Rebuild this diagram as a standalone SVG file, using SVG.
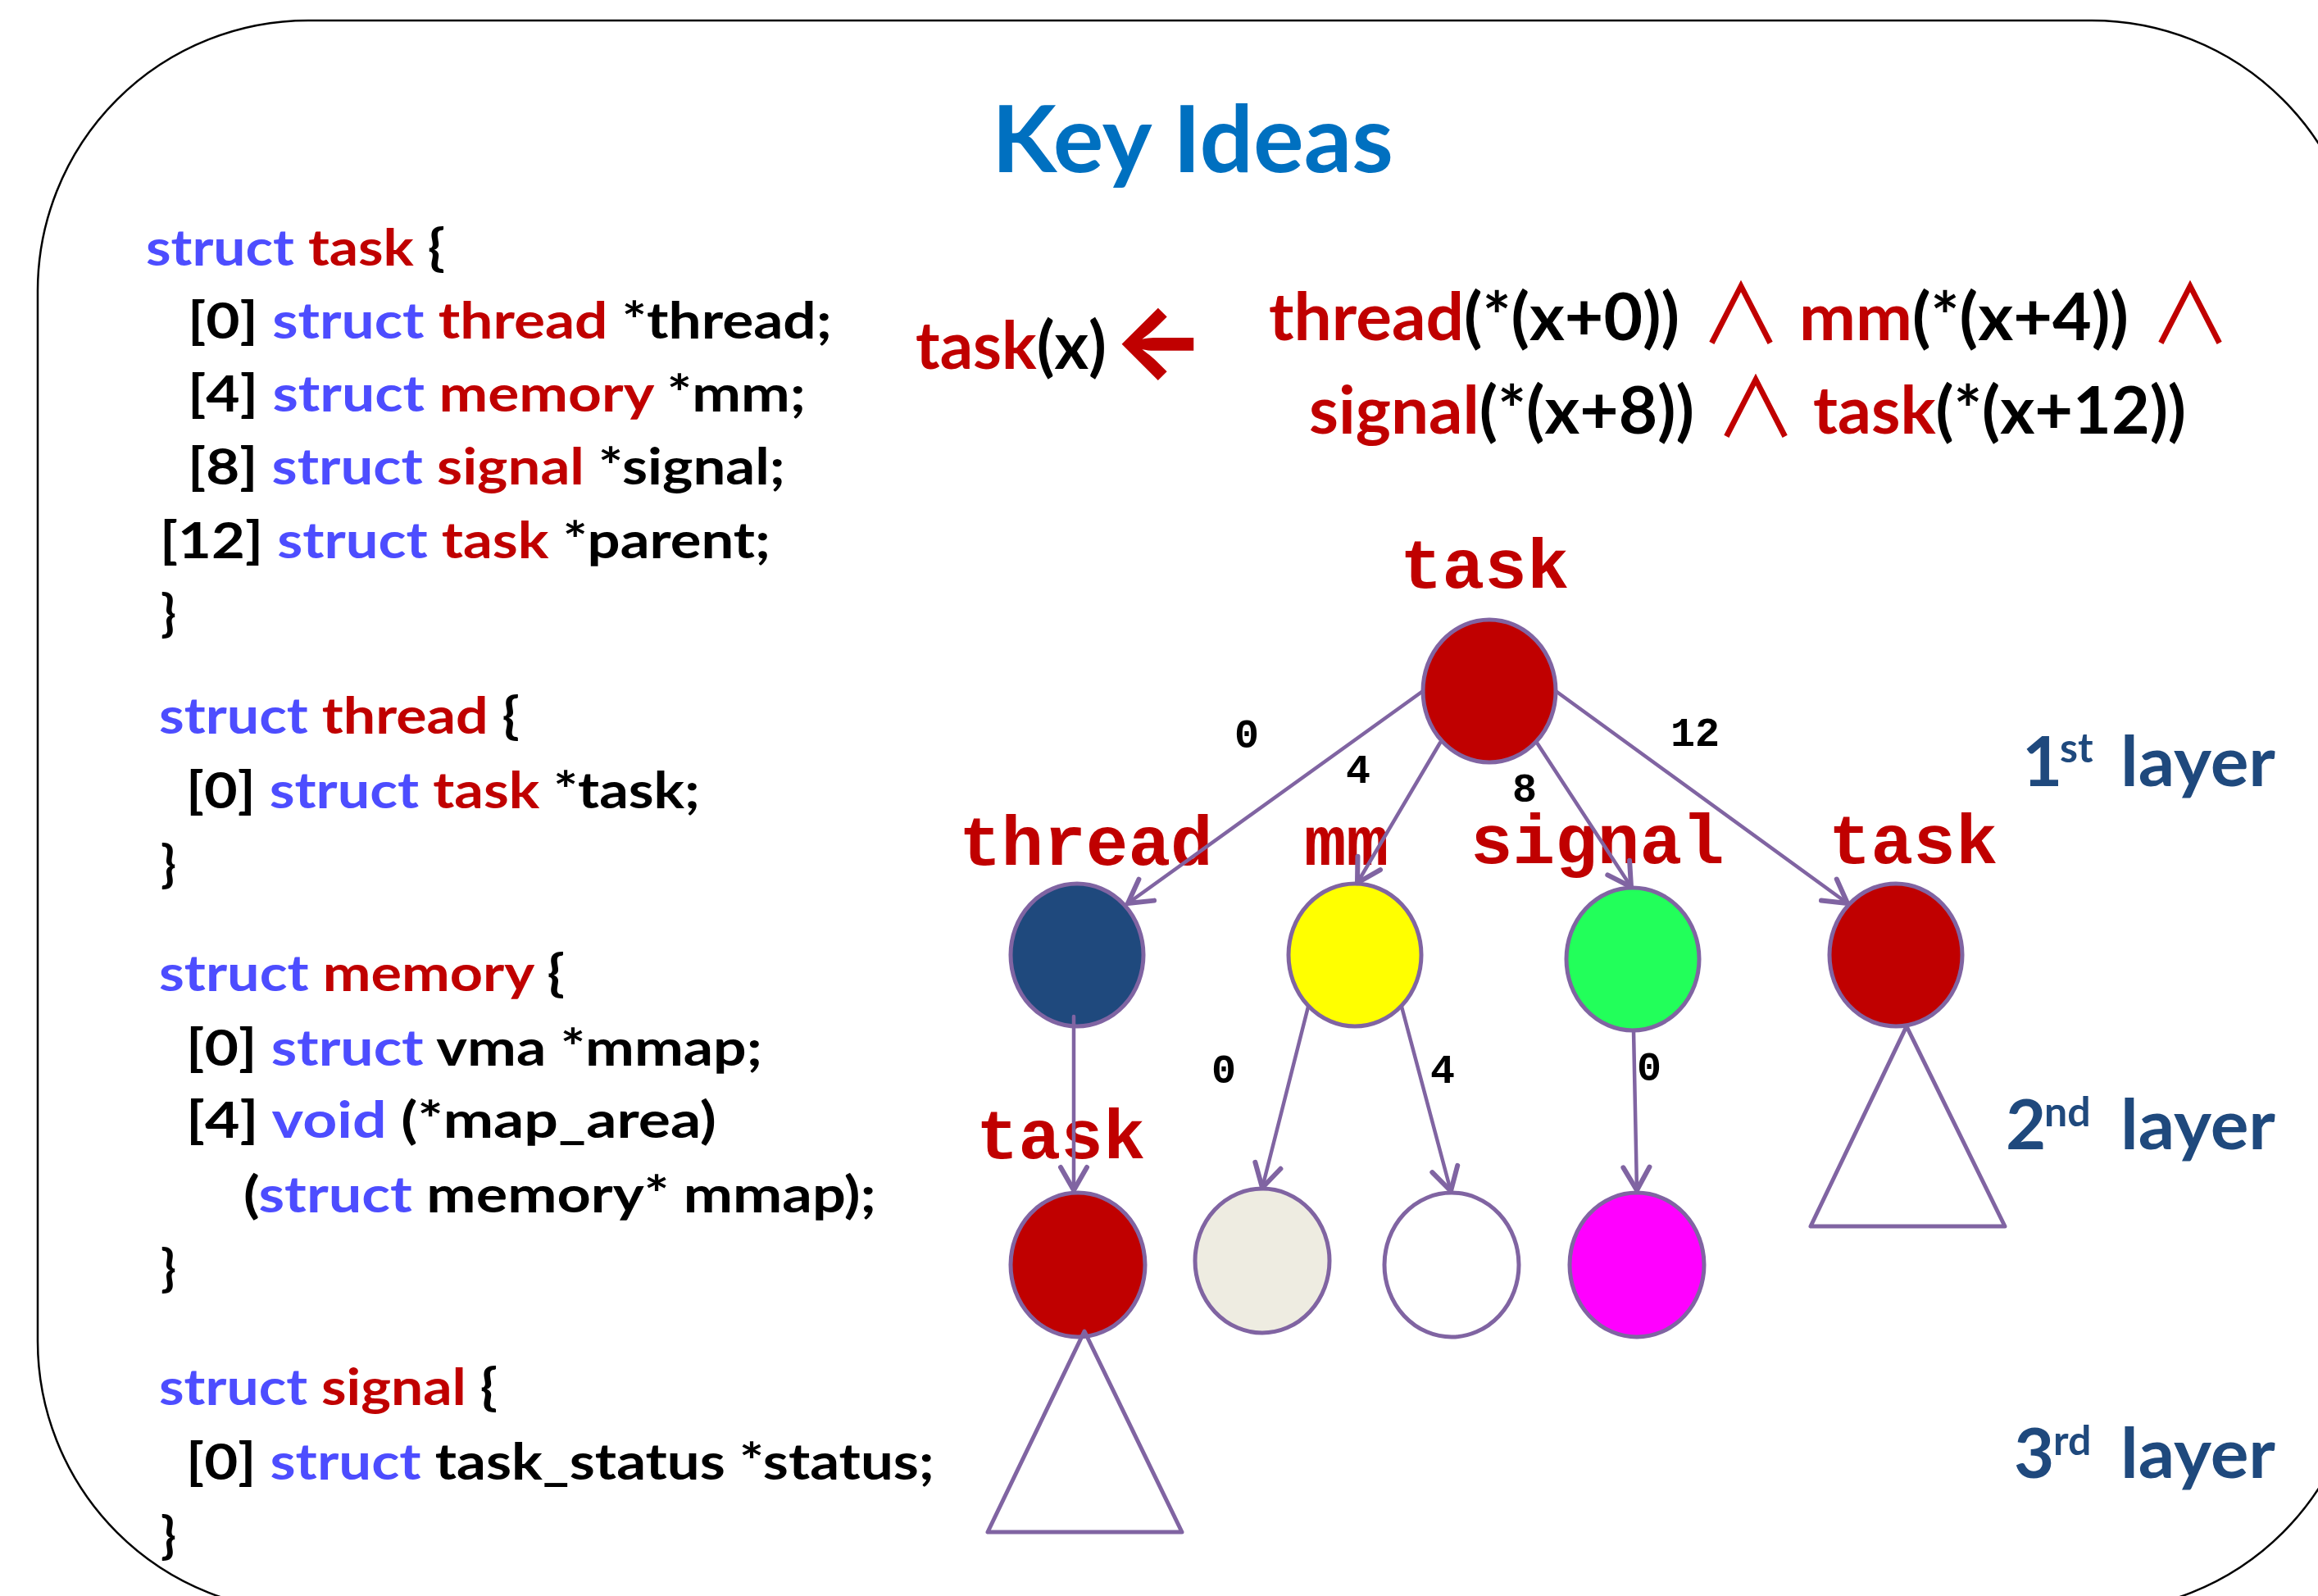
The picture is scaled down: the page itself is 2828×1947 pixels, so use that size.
<svg xmlns="http://www.w3.org/2000/svg" width="2828" height="1947" viewBox="0 0 2828 1947">
<style>
.code{font-family:Lato,"Liberation Sans",sans-serif;font-weight:bold;font-size:62px;fill:#000}
.kw{fill:#4D4DFF}
.ty{fill:#C00000}
.f{font-family:Lato,"Liberation Sans",sans-serif;font-weight:bold;font-size:80px;fill:#000}
.and{font-family:"Noto Sans CJK JP","Noto Sans CJK SC",sans-serif;font-weight:normal;font-size:100px;fill:#C00000;text-anchor:middle}
.title{font-family:Lato,"Liberation Sans",sans-serif;font-weight:bold;font-size:113px;fill:#0070C0}
.layer{font-family:Lato,"Liberation Sans",sans-serif;font-weight:bold;font-size:85px;fill:#1F497D}
.sup{font-size:50px}
.lbl{font-family:"Liberation Mono","Courier New",monospace;font-weight:bold;font-size:86px;fill:#C00000}
.el{font-family:"Liberation Mono","Courier New",monospace;font-weight:bold;font-size:50px;fill:#000;text-anchor:middle}
.node{stroke:#8064A2;stroke-width:5}
.edge{stroke:#8064A2;stroke-width:4.5;fill:none;stroke-linecap:round;marker-end:url(#arr)}
.tri{stroke:#8064A2;stroke-width:5;fill:none;stroke-linejoin:round}
</style>
<defs>
<marker id="arr" markerUnits="userSpaceOnUse" markerWidth="40" markerHeight="40" viewBox="-25 -15 30 30" refX="0" refY="0" orient="auto">
<path d="M -21,-12 L 0,0 L -21,12" fill="none" stroke="#8064A2" stroke-width="4.5" stroke-linecap="round" stroke-linejoin="round"/>
</marker>
</defs>
<rect width="2828" height="1947" fill="#fff"/>
<rect x="46" y="25" width="2836" height="1941" rx="330" ry="330" fill="none" stroke="#000" stroke-width="2.5"/>

<text class="title" x="1210" y="210" textLength="490" lengthAdjust="spacingAndGlyphs">Key Ideas</text>

<g id="code">
<text class="code" x="178" y="324" textLength="365" lengthAdjust="spacingAndGlyphs"><tspan class="kw">struct</tspan> <tspan class="ty">task</tspan> {</text>
<text class="code" x="229" y="413" textLength="786" lengthAdjust="spacingAndGlyphs">[0] <tspan class="kw">struct</tspan> <tspan class="ty">thread</tspan> *thread;</text>
<text class="code" x="229" y="502" textLength="754" lengthAdjust="spacingAndGlyphs">[4] <tspan class="kw">struct</tspan> <tspan class="ty">memory</tspan> *mm;</text>
<text class="code" x="229" y="591" textLength="729" lengthAdjust="spacingAndGlyphs">[8] <tspan class="kw">struct</tspan> <tspan class="ty">signal</tspan> *signal;</text>
<text class="code" x="195" y="681" textLength="745" lengthAdjust="spacingAndGlyphs">[12] <tspan class="kw">struct</tspan> <tspan class="ty">task</tspan> *parent;</text>
<text class="code" x="196" y="770" font-size="66">}</text>

<text class="code" x="194" y="895" textLength="440" lengthAdjust="spacingAndGlyphs"><tspan class="kw">struct</tspan> <tspan class="ty">thread</tspan> {</text>
<text class="code" x="227" y="986" textLength="627" lengthAdjust="spacingAndGlyphs">[0] <tspan class="kw">struct</tspan> <tspan class="ty">task</tspan> *task;</text>
<text class="code" x="196" y="1076" font-size="66">}</text>

<text class="code" x="194" y="1209" textLength="495" lengthAdjust="spacingAndGlyphs"><tspan class="kw">struct</tspan> <tspan class="ty">memory</tspan> {</text>
<text class="code" x="227" y="1300" textLength="703" lengthAdjust="spacingAndGlyphs">[0] <tspan class="kw">struct</tspan> vma *mmap;</text>
<text class="code" x="227" y="1388" textLength="647" lengthAdjust="spacingAndGlyphs">[4] <tspan class="kw">void</tspan> (*map_area)</text>
<text class="code" x="297" y="1479" textLength="772" lengthAdjust="spacingAndGlyphs">(<tspan class="kw">struct</tspan> memory* mmap);</text>
<text class="code" x="196" y="1569" font-size="66">}</text>

<text class="code" x="194" y="1714" textLength="413" lengthAdjust="spacingAndGlyphs"><tspan class="kw">struct</tspan> <tspan class="ty">signal</tspan> {</text>
<text class="code" x="227" y="1805" textLength="913" lengthAdjust="spacingAndGlyphs">[0] <tspan class="kw">struct</tspan> task_status *status;</text>
<text class="code" x="196" y="1895" font-size="66">}</text>
</g>

<g id="formula">
<text class="f" x="1117" y="450" textLength="233" lengthAdjust="spacingAndGlyphs"><tspan class="ty">task</tspan>(x)</text>
<text x="1414" y="458" text-anchor="middle" font-family="Inter,sans-serif" font-weight="800" font-size="120" fill="#C00000">←</text>
<text class="f" x="1548" y="415" textLength="501" lengthAdjust="spacingAndGlyphs"><tspan class="ty">thread</tspan>(*(x+0))</text>
<text class="and" x="2124" y="419">∧</text>
<text class="f" x="2195" y="415" textLength="402" lengthAdjust="spacingAndGlyphs"><tspan class="ty">mm</tspan>(*(x+4))</text>
<text class="and" x="2672" y="419">∧</text>
<text class="f" x="1597" y="529" textLength="470" lengthAdjust="spacingAndGlyphs"><tspan class="ty">signal</tspan>(*(x+8))</text>
<text class="and" x="2142" y="533">∧</text>
<text class="f" x="2212" y="529" textLength="455" lengthAdjust="spacingAndGlyphs"><tspan class="ty">task</tspan>(*(x+12))</text>
</g>

<g id="layers">
<text class="layer" x="2467" y="959">1<tspan class="sup" x="2513" y="930">st</tspan><tspan x="2587" y="959" textLength="189" lengthAdjust="spacingAndGlyphs">layer</tspan></text>
<text class="layer" x="2447" y="1402">2<tspan class="sup" x="2494" y="1374">nd</tspan><tspan x="2587" y="1402" textLength="189" lengthAdjust="spacingAndGlyphs">layer</tspan></text>
<text class="layer" x="2457" y="1803">3<tspan class="sup" x="2505" y="1775">rd</tspan><tspan x="2587" y="1803" textLength="189" lengthAdjust="spacingAndGlyphs">layer</tspan></text>
</g>

<g id="n-root"><ellipse class="node" cx="1817" cy="843" rx="81" ry="87" fill="#C00000"/><text class="lbl" x="1708" y="717">task</text></g>
<g id="n-thread"><ellipse class="node" cx="1314" cy="1165" rx="81" ry="87" fill="#1F497D"/><text class="lbl" x="1170" y="1055">thread</text></g>
<g id="n-mm"><ellipse class="node" cx="1653" cy="1165" rx="81" ry="87" fill="#FFFF00"/><text class="lbl" x="1591" y="1055">mm</text></g>
<g id="n-signal"><ellipse class="node" cx="1992" cy="1170" rx="81" ry="87" fill="#22FF5A"/><text class="lbl" x="1794" y="1053">signal</text></g>
<g id="n-task2"><ellipse class="node" cx="2313" cy="1165" rx="81" ry="87" fill="#C00000"/><text class="lbl" x="2231" y="1053">task</text></g>
<g id="n-task3"><ellipse class="node" cx="1315" cy="1543" rx="82" ry="88" fill="#C00000"/><text class="lbl" x="1191" y="1413">task</text></g>
<g id="n-mmap"><ellipse class="node" cx="1540" cy="1538" rx="82" ry="88" fill="#EEECE1"/></g>
<g id="n-maparea"><ellipse class="node" cx="1771" cy="1543" rx="82" ry="88" fill="#FFFFFF"/></g>
<g id="n-status"><ellipse class="node" cx="1997" cy="1543" rx="82" ry="88" fill="#FF00FF"/></g>
<g id="sub-task2"><polygon class="tri" points="2326,1252 2209,1496 2446,1496"/></g>
<g id="sub-task3"><polygon class="tri" points="1323,1624 1205,1869 1442,1869"/></g>

<g id="connectors">
<line class="edge" x1="1736" y1="843" x2="1376" y2="1102"/>
<line class="edge" x1="1757" y1="906" x2="1656" y2="1077"/>
<line class="edge" x1="1875" y1="906" x2="1990" y2="1082"/>
<line class="edge" x1="1898" y1="843" x2="2254" y2="1102"/>
<line class="edge" x1="1310" y1="1240" x2="1310" y2="1452"/>
<line class="edge" x1="1596" y1="1228" x2="1540" y2="1449"/>
<line class="edge" x1="1710" y1="1228" x2="1770" y2="1453"/>
<line class="edge" x1="1993" y1="1257" x2="1997" y2="1452"/>
<text class="el" x="1521" y="912">0</text>
<text class="el" x="1657" y="955">4</text>
<text class="el" x="1860" y="978">8</text>
<text class="el" x="2068" y="910" font-weight="normal">12</text>
<text class="el" x="1493" y="1321">0</text>
<text class="el" x="1760" y="1321">4</text>
<text class="el" x="2012" y="1318" font-family="Lato,sans-serif" font-weight="normal">0</text>
</g>
</svg>
